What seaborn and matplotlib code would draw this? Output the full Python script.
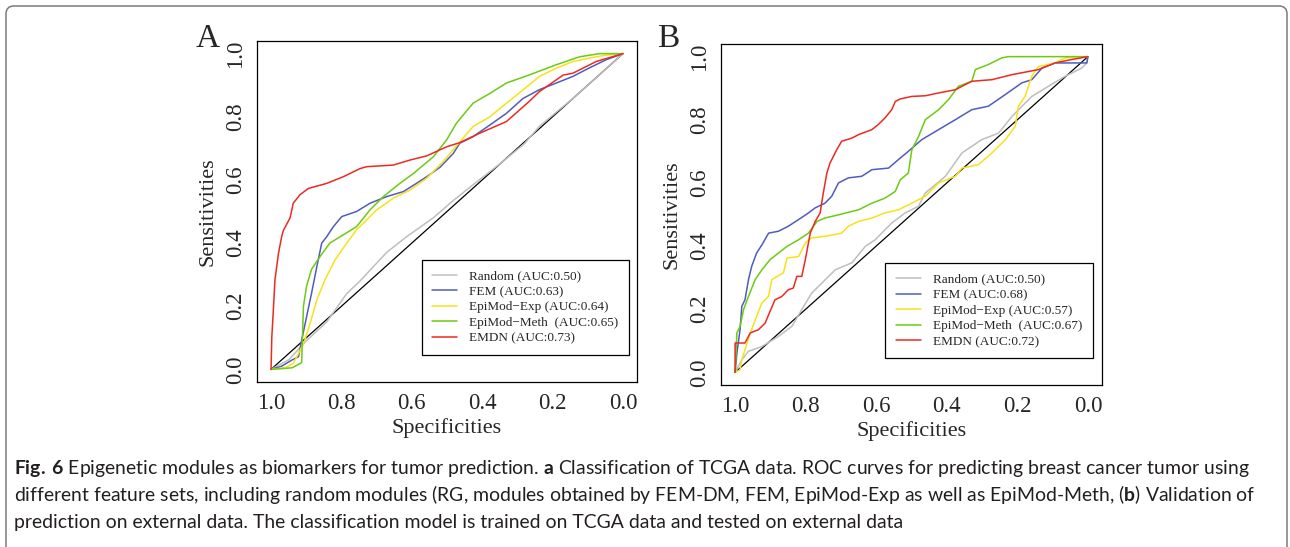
import matplotlib
matplotlib.use("Agg")
import matplotlib.pyplot as plt
import seaborn as sns
from matplotlib import font_manager
from matplotlib.patches import FancyBboxPatch
from matplotlib.transforms import IdentityTransform

# ------------------------------------------
# DATA
# ------------------------------------------

series_names = ["Random", "FEM", "EpiMod\u2212Exp", "EpiMod\u2212Meth ", "EMDN"]
auc_a = ["0.50", "0.63", "0.64", "0.65", "0.73"]
auc_b = ["0.50", "0.68", "0.57", "0.67", "0.72"]
diag_x = [1.0, 0.0]
diag_y = [0.0, 1.0]
tick_values = [1.0, 0.8, 0.6, 0.4, 0.2, 0.0]
tick_labels_x = ["1.0", "0.8", "0.6", "0.4", "0.2", "0.0"]
tick_labels_y = ["0.0", "0.2", "0.4", "0.6", "0.8", "1.0"]

# panel A : TCGA
a_random_spec = [1.0, 0.95, 0.90, 0.842, 0.785, 0.747, 0.672, 0.615, 0.539, 0.482, 0.42, 0.345,
                 0.28, 0.237, 0.189, 0.14, 0.095, 0.05, 0.0]
a_random_sens = [0.0, 0.03, 0.09, 0.15, 0.24, 0.28, 0.37, 0.42, 0.48, 0.535, 0.59, 0.655,
                 0.715, 0.77, 0.815, 0.86, 0.905, 0.95, 1.0]
a_fem_spec = [1.0, 0.97, 0.94, 0.922, 0.913, 0.899, 0.885, 0.870, 0.856, 0.842, 0.823, 0.799,
              0.757, 0.719, 0.672, 0.624, 0.587, 0.558, 0.520, 0.482, 0.464, 0.426, 0.378,
              0.331, 0.284, 0.237, 0.189, 0.142, 0.095, 0.047, 0.0]
a_fem_sens = [0.0, 0.01, 0.03, 0.04, 0.093, 0.167, 0.241, 0.325, 0.40, 0.42, 0.452, 0.484,
              0.50, 0.526, 0.547, 0.563, 0.589, 0.61, 0.64, 0.684, 0.716, 0.737, 0.774,
              0.811, 0.858, 0.886, 0.907, 0.928, 0.955, 0.981, 1.0]
a_exp_spec = [1.0, 0.96, 0.937, 0.922, 0.904, 0.889, 0.870, 0.847, 0.818, 0.785, 0.757, 0.728,
              0.700, 0.653, 0.605, 0.558, 0.511, 0.464, 0.426, 0.378, 0.331, 0.284, 0.237,
              0.189, 0.142, 0.095, 0.05, 0.0]
a_exp_sens = [0.0, 0.005, 0.019, 0.05, 0.093, 0.146, 0.22, 0.283, 0.347, 0.40, 0.442, 0.474,
              0.505, 0.542, 0.568, 0.605, 0.658, 0.72, 0.769, 0.80, 0.843, 0.885, 0.928,
              0.954, 0.975, 0.986, 0.995, 1.0]
a_meth_spec = [1.0, 0.94, 0.915, 0.913, 0.908, 0.899, 0.885, 0.861, 0.833, 0.795, 0.757, 0.719,
               0.681, 0.634, 0.596, 0.539, 0.501, 0.473, 0.426, 0.378, 0.331, 0.265, 0.189,
               0.123, 0.066, 0.0]
a_meth_sens = [0.0, 0.005, 0.02, 0.024, 0.20, 0.264, 0.317, 0.357, 0.40, 0.426, 0.452, 0.505,
               0.547, 0.589, 0.62, 0.673, 0.727, 0.78, 0.843, 0.874, 0.907, 0.933, 0.965,
               0.99, 1.0, 1.0]
a_emdn_spec = [1.0, 0.998, 0.993, 0.989, 0.979, 0.970, 0.965, 0.946, 0.937, 0.918, 0.894, 0.842,
               0.795, 0.747, 0.728, 0.653, 0.605, 0.558, 0.501, 0.464, 0.407, 0.331, 0.265,
               0.237, 0.170, 0.142, 0.076, 0.0]
a_emdn_sens = [0.0, 0.10, 0.199, 0.283, 0.367, 0.42, 0.44, 0.48, 0.526, 0.553, 0.573, 0.589,
               0.61, 0.636, 0.642, 0.647, 0.663, 0.676, 0.705, 0.718, 0.748, 0.785, 0.85,
               0.88, 0.932, 0.938, 0.975, 1.0]

# panel B : external validation
b_random_spec = [1.0, 0.981, 0.962, 0.924, 0.877, 0.839, 0.811, 0.783, 0.754, 0.716, 0.669,
                 0.631, 0.603, 0.556, 0.518, 0.480, 0.461, 0.404, 0.357, 0.301, 0.253, 0.215,
                 0.159, 0.112, 0.064, 0.017, 0.003, 0.0]
b_random_sens = [0.0, 0.04, 0.067, 0.082, 0.114, 0.146, 0.199, 0.251, 0.283, 0.325, 0.347,
                 0.399, 0.42, 0.473, 0.505, 0.526, 0.568, 0.621, 0.695, 0.737, 0.758, 0.811,
                 0.874, 0.906, 0.938, 0.964, 0.98, 1.0]
b_fem_spec = [1.0, 0.995, 0.986, 0.981, 0.972, 0.962, 0.953, 0.939, 0.924, 0.905, 0.877, 0.849,
              0.820, 0.792, 0.773, 0.745, 0.726, 0.707, 0.679, 0.641, 0.612, 0.565, 0.537,
              0.509, 0.471, 0.423, 0.376, 0.329, 0.282, 0.234, 0.187, 0.159, 0.130, 0.093,
              0.045, 0.003, 0.0]
b_fem_sens = [0.0, 0.061, 0.135, 0.209, 0.23, 0.294, 0.336, 0.378, 0.404, 0.441, 0.447, 0.463,
              0.484, 0.505, 0.521, 0.536, 0.558, 0.60, 0.616, 0.621, 0.642, 0.647, 0.674,
              0.70, 0.737, 0.769, 0.80, 0.832, 0.843, 0.88, 0.917, 0.927, 0.964, 0.98,
              0.98, 0.98, 1.0]
b_exp_spec = [1.0, 0.986, 0.981, 0.972, 0.957, 0.939, 0.924, 0.905, 0.896, 0.863, 0.853, 0.820,
              0.801, 0.783, 0.745, 0.698, 0.679, 0.650, 0.612, 0.575, 0.537, 0.499, 0.461,
              0.423, 0.376, 0.357, 0.310, 0.272, 0.234, 0.206, 0.197, 0.178, 0.159, 0.140,
              0.093, 0.064, 0.0]
b_exp_sens = [0.0, 0.008, 0.04, 0.072, 0.125, 0.177, 0.22, 0.241, 0.294, 0.315, 0.362, 0.367,
              0.41, 0.426, 0.431, 0.441, 0.463, 0.478, 0.489, 0.505, 0.515, 0.536, 0.558,
              0.60, 0.621, 0.647, 0.658, 0.695, 0.737, 0.779, 0.843, 0.874, 0.938, 0.969,
              0.98, 0.996, 1.0]
b_meth_spec = [1.0, 0.995, 0.986, 0.976, 0.962, 0.943, 0.924, 0.901, 0.877, 0.853, 0.820, 0.792,
               0.768, 0.745, 0.707, 0.650, 0.612, 0.575, 0.546, 0.532, 0.509, 0.499, 0.480,
               0.461, 0.423, 0.395, 0.367, 0.329, 0.319, 0.282, 0.244, 0.225, 0.0]
b_meth_sens = [0.0, 0.125, 0.146, 0.199, 0.241, 0.294, 0.325, 0.357, 0.378, 0.399, 0.42, 0.441,
               0.478, 0.489, 0.499, 0.515, 0.536, 0.552, 0.573, 0.61, 0.631, 0.705, 0.747,
               0.80, 0.832, 0.864, 0.906, 0.922, 0.959, 0.975, 0.996, 1.0, 1.0]
b_emdn_spec = [1.0, 1.0, 0.972, 0.957, 0.934, 0.915, 0.887, 0.868, 0.849, 0.835, 0.825, 0.811,
               0.801, 0.787, 0.773, 0.759, 0.750, 0.740, 0.731, 0.712, 0.698, 0.669, 0.650,
               0.612, 0.594, 0.575, 0.556, 0.546, 0.532, 0.499, 0.461, 0.423, 0.376, 0.329,
               0.272, 0.215, 0.140, 0.093, 0.045, 0.0]
b_emdn_sens = [0.0, 0.093, 0.093, 0.125, 0.135, 0.156, 0.23, 0.24, 0.262, 0.267, 0.304, 0.304,
               0.357, 0.441, 0.478, 0.505, 0.568, 0.631, 0.663, 0.705, 0.732, 0.742, 0.753,
               0.769, 0.785, 0.806, 0.832, 0.858, 0.866, 0.874, 0.876, 0.885, 0.895, 0.922,
               0.927, 0.943, 0.959, 0.98, 0.991, 1.0]

caption_lines = [
    r"$\mathbf{Fig.\!\ 6}$ Epigenetic modules as biomarkers for tumor prediction. $\mathbf{a}$ "
    "Classification of TCGA data. ROC curves for predicting breast cancer tumor using",
    r"different feature sets, including random modules (RG, modules obtained by FEM-DM, FEM, "
    r"EpiMod-Exp as well as EpiMod-Meth, ($\mathbf{b}$) Validation of",
    "prediction on external data. The classification model is trained on TCGA data and tested on external data",
]

# ------------------------------------------
# STYLE
# ------------------------------------------

colors = ["#bebebe", "#4f5cc0", "#f7e21a", "#6ccb12", "#ec2a22"]

sns.set_style("white")
plt.rcParams["font.family"] = ["Liberation Serif", "DejaVu Serif"]

installed = {f.name for f in font_manager.fontManager.ttflist}
cap_font = "Lato" if "Lato" in installed else "DejaVu Sans"
plt.rcParams["mathtext.fontset"] = "custom"
plt.rcParams["mathtext.rm"] = cap_font
plt.rcParams["mathtext.bf"] = cap_font + ":bold"

W, H = 1290, 547
fig = plt.figure(figsize=(W / 100, H / 100), dpi=100)


def px_axes(left, top, right, bottom):
    return fig.add_axes([left / W, 1 - bottom / H, (right - left) / W, (bottom - top) / H])


def draw_panel(ax, specs, senss, aucs, letter, letter_x, leg_anchor):
    ax.plot(diag_x, diag_y, color="black", lw=0.9)
    handles = []
    for name, sx, sy, col, auc in zip(series_names, specs, senss, colors, aucs):
        sns.lineplot(x=sx, y=sy, sort=False, estimator=None, color=col, lw=1.1, ax=ax)
        handles.append(ax.lines[-1])
    labels = [f"{n} (AUC:{a})" for n, a in zip(series_names, aucs)]
    ax.set_xlim(1.04, -0.04)
    ax.set_ylim(-0.04, 1.04)
    ax.set_xticks(tick_values)
    ax.set_xticklabels(tick_labels_x)
    ax.set_yticks(tick_values[::-1])
    ax.set_yticklabels(tick_labels_y, rotation=90, va="center")
    ax.tick_params(direction="out", length=5, width=0.8, labelsize=16.5, color="black")
    ax.tick_params(axis="x", pad=3)
    ax.tick_params(axis="y", pad=3)
    ax.set_xlabel("Specificities", fontsize=16, labelpad=3)
    ax.set_ylabel("Sensitivities", fontsize=16, labelpad=5)
    for s in ax.spines.values():
        s.set_color("black")
        s.set_linewidth(0.9)
    leg = ax.legend(handles, labels, loc="lower right", bbox_to_anchor=leg_anchor,
                    borderaxespad=0, frameon=True, fancybox=False, edgecolor="black",
                    framealpha=1, fontsize=9.5, handlelength=1.9, handletextpad=0.9,
                    borderpad=0.8, labelspacing=0.25)
    leg.get_frame().set_linewidth(0.9)
    fig.text(letter_x / W, 1 - 47 / H, letter, fontsize=24, ha="left", va="baseline")


ax_a = px_axes(257, 41, 637, 382)
draw_panel(ax_a,
           [a_random_spec, a_fem_spec, a_exp_spec, a_meth_spec, a_emdn_spec],
           [a_random_sens, a_fem_sens, a_exp_sens, a_meth_sens, a_emdn_sens],
           auc_a, "A", 196, (0.979, 0.079))

ax_b = px_axes(721, 44, 1102, 385)
draw_panel(ax_b,
           [b_random_spec, b_fem_spec, b_exp_spec, b_meth_spec, b_emdn_spec],
           [b_random_sens, b_fem_sens, b_exp_sens, b_meth_sens, b_emdn_sens],
           auc_b, "B", 657, (0.976, 0.078))

# ------------------------------------------
# CAPTION + FRAME
# ------------------------------------------

cap_y = [474, 501, 528]
texts = []
for line, y in zip(caption_lines, cap_y):
    texts.append(fig.text(14 / W, 1 - y / H, line, fontsize=12.5, family=cap_font,
                          ha="left", va="baseline", color="#231f20"))

# fit caption size to the width of the first line in the reference
renderer = fig.canvas.get_renderer()
w0 = texts[0].get_window_extent(renderer).width
scale = 1236 / w0
for t in texts:
    t.set_fontsize(12.5 * scale)

frame = FancyBboxPatch((6, -30), 1281, H - 6 + 30, boxstyle="round,pad=0,rounding_size=8",
                       transform=IdentityTransform(), fill=False, edgecolor="#7a7a7a", lw=1.1)
fig.patches.append(frame)

fig.savefig("out.png", dpi=100)
